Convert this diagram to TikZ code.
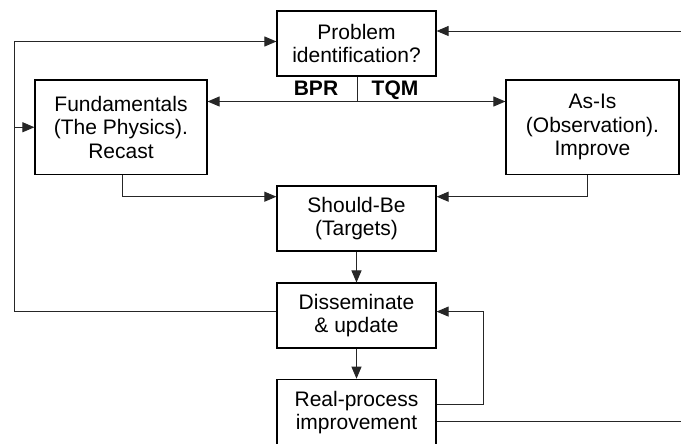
\documentclass[tikz,border=0pt]{standalone}
\usepackage{fontspec}
\setmainfont{Liberation Sans}
\usetikzlibrary{arrows.meta}
\begin{document}
\begin{tikzpicture}[x=1pt,y=1pt,
  box/.style={draw=black,line width=1.2pt,align=center,inner sep=0pt,
    font=\fontsize{21}{23.5}\selectfont},
  conn/.style={line width=0.9pt,draw=black!85},
  arr/.style={conn,-{Triangle[length=12pt,width=10pt]}},
  darr/.style={conn,{Triangle[length=12pt,width=10pt]}-{Triangle[length=12pt,width=10pt]}},
  lbl/.style={font=\fontsize{21}{23.5}\selectfont\bfseries,inner sep=0pt,anchor=base}]
\clip (0,0) rectangle (681,444);
\fill[white] (0,0) rectangle (681,444);

% boxes
\node[box,minimum width=159pt,minimum height=65pt] (prob) at (356.5,400.5) {Problem\\identification?};
\node[box,minimum width=172pt,minimum height=94.5pt] (fund) at (121,316.75) {Fundamentals\\(The Physics).\\Recast};
\node[box,minimum width=173pt,minimum height=94.5pt] (asis) at (592.5,316.75) {As-Is\\(Observation).\\Improve};
\node[box,minimum width=159pt,minimum height=65pt] (should) at (356.5,225.5) {Should-Be\\(Targets)};
\node[box,minimum width=159pt,minimum height=65pt] (diss) at (356.5,128.4) {Disseminate\\\& update};
\node[box,minimum width=159pt,minimum height=67pt] (real) at (356.5,31.2) {Real-process\\improvement};

% helper points
\coordinate (lx) at (14.3,0);
\coordinate (rx) at (681,0);
\coordinate (j) at (357.3,342.5);
\coordinate (fy) at (0,247.3);
\coordinate (ry) at (483,0);

% BPR / TQM split
\draw[conn] (prob.south -| j) -- (j);
\draw[darr] (j -| fund.east) -- (j -| asis.west);
\node[lbl] (bpr) at (316,348.3) {BPR};
\node[lbl] (tqm) at (395,348.3) {TQM};

% outer feedback loop on the left
\draw[arr] ([yshift=4pt]diss.west) -- ([yshift=4pt]lx |- diss.west) -- ([yshift=2pt]lx |- prob.west) -- ([yshift=2pt]prob.west);
\draw[arr] (lx |- fund.west) -- (fund.west);

% incoming line on the right
\draw[arr] ([yshift=12.5pt]rx |- prob.east) -- ([yshift=12.5pt]prob.east);

% into Should-Be
\draw[arr] ([xshift=1.5pt]fund.south) |- (fy -| should.west);
\draw[arr] ([xshift=-4.8pt]asis.south) |- (fy -| should.east);

% main column
\draw[arr] (should.south) -- (diss.north);
\draw[arr] (diss.south) -- (real.north);

% return from real-process improvement
\draw[arr] ([yshift=8.5pt]real.east) -- ([yshift=8.5pt]ry |- real.east) -- ([yshift=4pt]ry |- diss.east) -- ([yshift=4pt]diss.east);
\draw[conn] ([yshift=-8.9pt]real.east) -- ([yshift=-8.9pt]rx |- real.east);
\end{tikzpicture}
\end{document}
